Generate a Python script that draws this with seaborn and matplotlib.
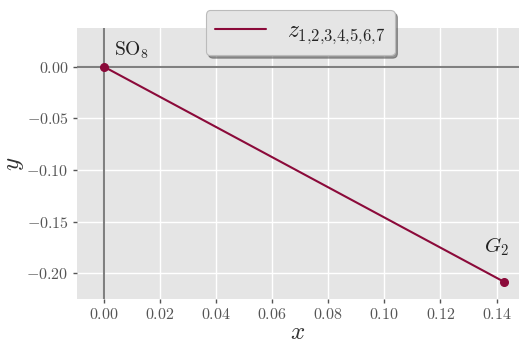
import matplotlib
matplotlib.use("Agg")
import matplotlib.pyplot as plt
import seaborn as sns
import pandas as pd

# Path between the two symmetry points
x_vals = [0.0, 0.1428]
y_vals = [0.0, -0.2085]
point_labels = [r"SO$_8$", r"$G_2$"]
series_name = r"$z_{1{,}2{,}3{,}4{,}5{,}6{,}7}$"

sns.set_style("darkgrid", {"axes.facecolor": "#E5E5E5", "grid.color": "white"})
plt.rcParams["font.family"] = ["serif"]
plt.rcParams["font.serif"] = ["cmr10", "DejaVu Serif"]
plt.rcParams["mathtext.fontset"] = "cm"
plt.rcParams["axes.formatter.use_mathtext"] = True

line_color = "#8B0A3A"

df = pd.DataFrame({"x": x_vals, "y": y_vals})

fig = plt.figure(figsize=(5.19, 3.42), dpi=100)
ax = fig.add_axes([0.148, 0.127, 0.852, 0.79])

ax.axhline(0, color="#808080", lw=1.5, zorder=1)
ax.axvline(0, color="#808080", lw=1.5, zorder=1)

sns.lineplot(data=df, x="x", y="y", ax=ax, color=line_color, lw=1.5,
             label=series_name, zorder=3)
ax.plot(df["x"], df["y"], "o", color=line_color, ms=5.5, zorder=4)

ax.text(x_vals[0] + 0.0035, y_vals[0] + 0.011, point_labels[0], fontsize=14,
        color="#222222")
ax.text(x_vals[1] - 0.0072, y_vals[1] + 0.029, point_labels[1], fontsize=15,
        color="#222222")

ax.set_xlim(-0.0096, 0.148)
ax.set_ylim(-0.2245, 0.037)
ax.set_xticks([0.0, 0.02, 0.04, 0.06, 0.08, 0.10, 0.12, 0.14])
ax.set_yticks([0.0, -0.05, -0.10, -0.15, -0.20])
ax.set_xticklabels([f"${v:.2f}$" for v in ax.get_xticks()])
ax.set_yticklabels([f"${v:.2f}$" for v in ax.get_yticks()])
ax.tick_params(axis="both", colors="#555555", labelsize=11.5, length=3,
               width=1, direction="out", bottom=True, left=True, pad=3)
for lab in ax.get_xticklabels() + ax.get_yticklabels():
    lab.set_color("#555555")
ax.set_xlabel(r"$x$", fontsize=18, color="#333333", labelpad=0)
ax.set_ylabel(r"$y$", fontsize=18, color="#333333", labelpad=0)
ax.grid(True, color="white", lw=1)
for s in ax.spines.values():
    s.set_visible(False)

leg = ax.legend(loc="upper center", bbox_to_anchor=(0.505, 1.067), fontsize=17,
                frameon=True, fancybox=True, shadow=True, handlelength=2.15,
                handletextpad=0.9, borderpad=0.4, borderaxespad=0,
                facecolor="#E5E5E5", edgecolor="#BBBBBB", framealpha=1)
leg.get_frame().set_linewidth(0.8)

fig.savefig("out.png", dpi=100)
